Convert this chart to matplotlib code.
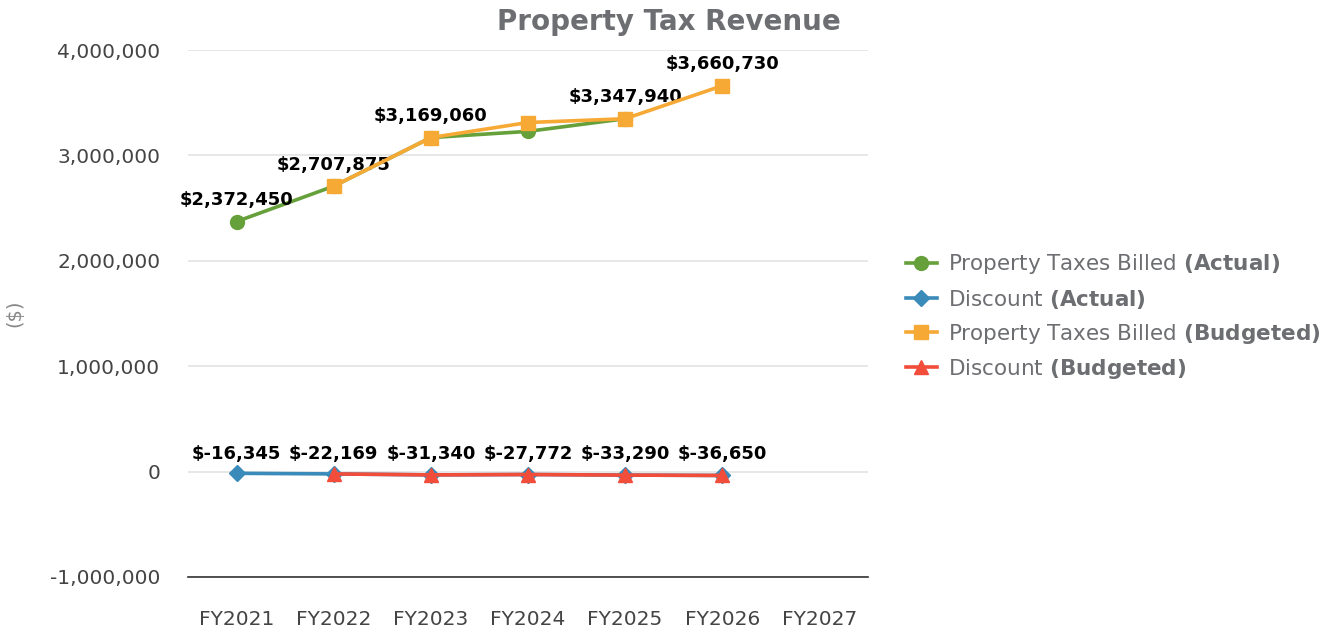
import matplotlib.pyplot as plt
from matplotlib.ticker import FuncFormatter

# Property tax revenue by fiscal year
years = ['FY2021', 'FY2022', 'FY2023', 'FY2024', 'FY2025', 'FY2026', 'FY2027']

billed_actual = [2372450, 2707875, 3169060, 3228000, 3347940]
discount_actual = [-16345, -22169, -31340, -27772, -33290, -36650]
billed_budget = [None, 2707875, 3169060, 3312000, 3347940, 3660730]
discount_budget = [None, -22169, -31340, -27772, -33290, -36650]

# which years get a value label on the billed line (FY2024 has none in the source)
billed_label_years = ['FY2021', 'FY2022', 'FY2023', 'FY2025', 'FY2026']

plt.rcParams['font.family'] = ['DejaVu Sans']
plt.rcParams['mathtext.fontset'] = 'dejavusans'

grey = '#6d6e71'
tick_grey = '#444444'
green = '#66a03a'
blue = '#3a8bba'
orange = '#f7a935'
red = '#f24c3a'

fig = plt.figure(figsize=(13.37, 6.33), dpi=100)
ax = fig.add_axes([0.1406, 0.0885, 0.5086, 0.8325])

x_idx = list(range(len(years)))


def pts(vals):
    xs = [i for i, v in enumerate(vals) if v is not None]
    ys = [v for v in vals if v is not None]
    return xs, ys


xs, ys = pts(billed_actual)
ax.plot(xs, ys, color=green, lw=2.6, marker='o', ms=10, zorder=3,
        label=r'Property Taxes Billed $\bf{(Actual)}$', clip_on=False)
xs, ys = pts(discount_actual)
ax.plot(xs, ys, color=blue, lw=2.6, marker='D', ms=8, zorder=3,
        label=r'Discount $\bf{(Actual)}$', clip_on=False)
xs, ys = pts(billed_budget)
ax.plot(xs, ys, color=orange, lw=2.6, marker='s', ms=10.5, zorder=4,
        label=r'Property Taxes Billed $\bf{(Budgeted)}$', clip_on=False)
xs, ys = pts(discount_budget)
ax.plot(xs, ys, color=red, lw=2.6, marker='^', ms=10.5, zorder=4,
        label=r'Discount $\bf{(Budgeted)}$', clip_on=False)

# value labels on billed line
for y in billed_label_years:
    i = years.index(y)
    if i < len(billed_budget) and billed_budget[i] is not None:
        v = billed_budget[i]
    else:
        v = billed_actual[i]
    ax.annotate(f'${v:,}', (i, v), xytext=(0, 9), textcoords='offset points',
                ha='center', va='bottom', fontsize=13, fontweight='bold', color='black')

# value labels on discount line
for i, v in enumerate(discount_actual):
    ax.annotate(f'${v:,}', (i, 0), xytext=(0, 6), textcoords='offset points',
                ha='center', va='bottom', fontsize=13, fontweight='bold', color='black')

ax.set_xlim(-0.5, len(years) - 0.5)
ax.set_ylim(-1000000, 4000000)
ax.set_xticks(x_idx)
ax.set_xticklabels(years)
ax.set_yticks(range(-1000000, 4000001, 1000000))
ax.yaxis.set_major_formatter(FuncFormatter(lambda v, p: f'{int(v):,}'))
ax.tick_params(axis='both', length=0, labelsize=14.5, colors=tick_grey)
ax.tick_params(axis='y', pad=20)
ax.tick_params(axis='x', pad=24)

for s in ['top', 'right', 'left']:
    ax.spines[s].set_visible(False)
ax.spines['bottom'].set_color('#333333')
ax.spines['bottom'].set_linewidth(1.2)
ax.grid(axis='y', color='#e3e3e3', lw=1.2)
ax.set_axisbelow(True)

ax.set_ylabel('($)', color='#888888', fontsize=14, labelpad=18)

fig.text(0.5, 0.965, 'Property Tax Revenue', ha='center', va='center',
         fontsize=20, fontweight='bold', color=grey)

leg = ax.legend(loc='center left', bbox_to_anchor=(1.027, 0.494), frameon=False,
                fontsize=15.5, labelspacing=0.52, handlelength=1.45, handletextpad=0.5,
                labelcolor=grey)

fig.savefig('out.png', dpi=100)
